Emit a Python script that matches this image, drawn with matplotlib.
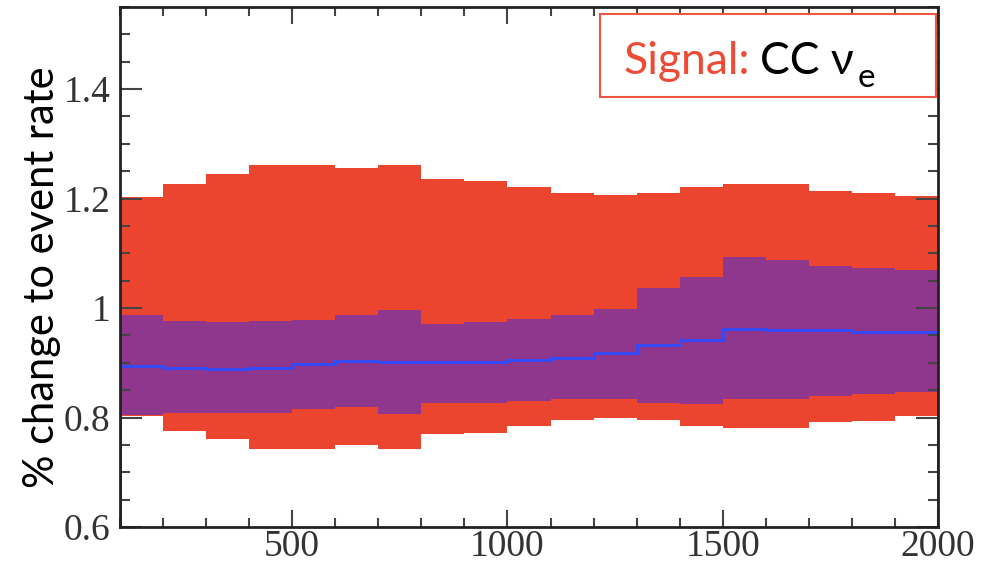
import matplotlib
matplotlib.use("Agg")
import matplotlib.pyplot as plt
from matplotlib.ticker import MultipleLocator

# bin edges (neutrino energy bins, 100 wide)
edges = [100, 200, 300, 400, 500, 600, 700, 800, 900, 1000,
         1100, 1200, 1300, 1400, 1500, 1600, 1700, 1800, 1900, 2000]

# outer (red) band
red_hi = [1.202, 1.227, 1.244, 1.262, 1.262, 1.256, 1.262, 1.236, 1.233, 1.222,
          1.211, 1.206, 1.211, 1.222, 1.227, 1.227, 1.213, 1.211, 1.205]
red_lo = [0.802, 0.776, 0.761, 0.743, 0.743, 0.750, 0.743, 0.770, 0.772, 0.785,
          0.795, 0.799, 0.796, 0.784, 0.781, 0.781, 0.791, 0.794, 0.802]

# inner (purple) band
pur_hi = [0.987, 0.976, 0.974, 0.976, 0.979, 0.987, 0.996, 0.971, 0.974, 0.980,
          0.987, 0.999, 1.037, 1.057, 1.093, 1.088, 1.076, 1.073, 1.069]
pur_lo = [0.805, 0.808, 0.808, 0.808, 0.815, 0.819, 0.806, 0.826, 0.826, 0.830,
          0.834, 0.834, 0.827, 0.825, 0.834, 0.834, 0.840, 0.843, 0.846]

# central value (blue line)
central = [0.895, 0.891, 0.889, 0.891, 0.898, 0.904, 0.901, 0.901, 0.901, 0.905,
           0.909, 0.918, 0.933, 0.941, 0.962, 0.960, 0.960, 0.957, 0.957]

xticks = [500, 1000, 1500, 2000]
yticks = [0.6, 0.8, 1.0, 1.2, 1.4]
ytick_labels = ["0.6", "0.8", "1", "1.2", "1.4"]

fig = plt.figure(figsize=(9.94, 5.68), dpi=100)
ax = fig.add_axes([0.1207, 0.0722, 0.8230, 0.9155])

ax.stairs(red_hi, edges, baseline=red_lo, fill=True, color="#EB452F", lw=0)
ax.stairs(pur_hi, edges, baseline=pur_lo, fill=True, color="#8F368D", lw=0)
ax.stairs(central, edges, color="#2F4BFF", lw=2)

ax.set_xlim(100, 2000)
ax.set_ylim(0.6, 1.55)

ax.set_xticks(xticks)
ax.set_xticklabels([str(v) for v in xticks])
ax.set_yticks(yticks)
ax.set_yticklabels(ytick_labels)
ax.xaxis.set_minor_locator(MultipleLocator(100))
ax.yaxis.set_minor_locator(MultipleLocator(0.05))

ax.tick_params(which="both", direction="in", top=True, right=True,
               colors="#444444", width=1.5)
ax.tick_params(axis="y", which="major", length=16, pad=7)
ax.tick_params(axis="y", which="minor", length=7)
ax.tick_params(axis="x", which="major", length=12, pad=2)
ax.tick_params(axis="x", which="minor", length=6.5)
for lab in ax.get_xticklabels() + ax.get_yticklabels():
    lab.set_fontfamily("Liberation Serif")
    lab.set_fontsize(27)
    lab.set_color("#333333")

for sp in ax.spines.values():
    sp.set_linewidth(2)
    sp.set_color("#222222")

ax.set_ylabel("% change to event rate", fontsize=30, family="Lato", color="black")
ax.yaxis.set_label_coords(-0.072, 0.481)

# label box in the top right corner
box = plt.Rectangle((0.587, 0.827), 0.411, 0.160, transform=ax.transAxes,
                    fill=True, facecolor="white", edgecolor="#EE5542", lw=1.5, zorder=5)
ax.add_patch(box)
ax.text(0.615, 0.872, "Signal:", transform=ax.transAxes, fontsize=32,
        family="Lato", color="#EE4B36", va="baseline", zorder=6)
ax.text(0.782, 0.872, "CC ν", transform=ax.transAxes, fontsize=32,
        family=["Lato", "DejaVu Sans"], color="black", va="baseline", zorder=6)
ax.text(0.902, 0.846, "e", transform=ax.transAxes, fontsize=24,
        family="Lato", color="black", va="baseline", zorder=6)

fig.savefig("out.png", dpi=100)
